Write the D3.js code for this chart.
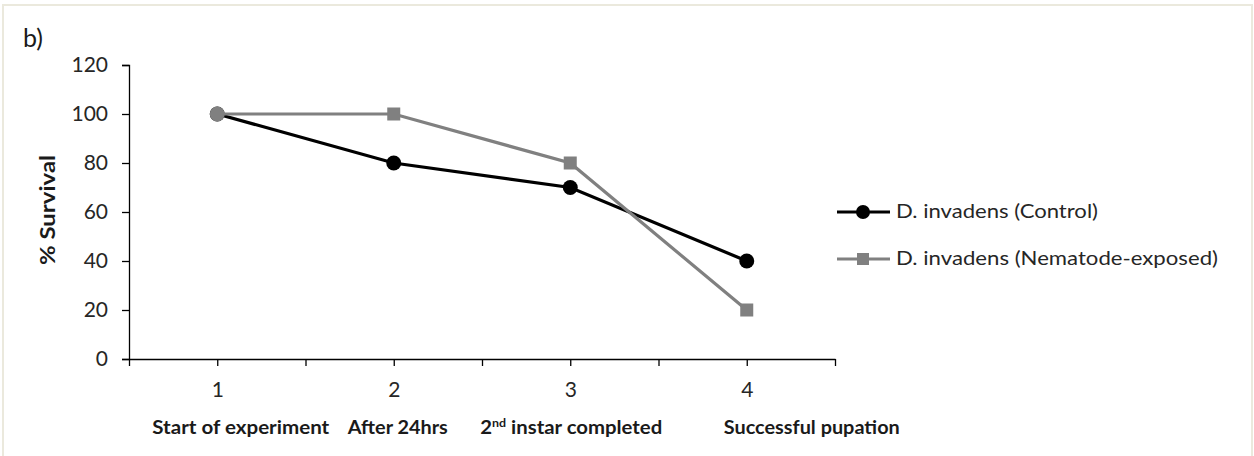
<!DOCTYPE html>
<html>
<head>
<meta charset="utf-8">
<script src="https://cdn.jsdelivr.net/npm/d3@7/dist/d3.min.js"></script>
<style>
  html, body { margin: 0; padding: 0; background: #fff; }
  svg { display: block; }
  text { font-family: Lato, "Open Sans", sans-serif; }
</style>
</head>
<body>
<svg id="chart" width="1254" height="456"></svg>
<script>
// Survival over the developmental stages
const stages = [1, 2, 3, 4];
const stageNames = ["Start of experiment", "After 24hrs", "2nd instar completed", "Successful pupation"];
const controlValues = [100, 80, 70, 40];
const nematodeValues = [100, 100, 80, 20];
const yTicks = [0, 20, 40, 60, 80, 100, 120];
const seriesNames = ["D. invadens (Control)", "D. invadens (Nematode-exposed)"];

const svg = d3.select("#chart");
const W = 1254, H = 456;

// pale frame around the figure
svg.append("rect")
  .attr("x", 3).attr("y", 5).attr("width", W - 5).attr("height", H + 10)
  .attr("fill", "#fff").attr("stroke", "#ebe9dd").attr("stroke-width", 2);

const plot = { left: 129, right: 835, top: 65, bottom: 359 };

const x = d3.scaleLinear().domain([0.5, 4.5]).range([plot.left, plot.right]);
const y = d3.scaleLinear().domain([0, 120]).range([plot.bottom, plot.top]);

const tickColor = "#262626";

// y axis
const yAxis = svg.append("g")
  .attr("transform", `translate(${plot.left},0)`)
  .call(d3.axisLeft(y).tickValues(yTicks).tickSize(7).tickPadding(14));
yAxis.select(".domain").attr("stroke", "#000").attr("stroke-width", 1.3);
yAxis.selectAll(".tick line").attr("stroke", "#000").attr("stroke-width", 1.3);
yAxis.selectAll(".tick text").attr("font-size", 21).attr("fill", tickColor)
  .attr("font-family", "Lato, sans-serif");

// x axis: ticks every half step, labels only at whole stages
const xAxis = svg.append("g")
  .attr("transform", `translate(0,${plot.bottom})`)
  .call(d3.axisBottom(x).tickValues(d3.range(0.5, 4.51, 0.5)).tickSize(7).tickSizeOuter(0)
    .tickFormat(d => Number.isInteger(d) ? d : ""));
xAxis.select(".domain").attr("stroke", "#000").attr("stroke-width", 1.3);
xAxis.selectAll(".tick text").attr("font-size", 21).attr("fill", tickColor)
  .attr("y", 38).attr("dy", 0).attr("font-family", "Lato, sans-serif");
xAxis.selectAll(".tick line").attr("stroke", "#000").attr("stroke-width", 1.3);

// stage names under the numeric labels
const nameStart = [-65, -46, -90, -23];
const nameWidth = [177, 100, 182, 176];
const names = svg.append("g").attr("font-weight", "bold").attr("font-size", 18).attr("fill", "#1a1a1a");
stages.forEach((s, i) => {
  const t = names.append("text")
    .attr("x", x(s) + nameStart[i]).attr("y", 434)
    .attr("textLength", nameWidth[i]).attr("lengthAdjust", "spacingAndGlyphs");
  const label = stageNames[i];
  if (label.startsWith("2nd")) {
    t.append("tspan").text("2");
    t.append("tspan").text("nd").attr("font-size", 11).attr("dy", -7);
    t.append("tspan").text(label.slice(3)).attr("dy", 7);
  } else {
    t.text(label);
  }
});

// y axis title
svg.append("text")
  .attr("transform", `translate(55,210) rotate(-90)`)
  .attr("text-anchor", "middle").attr("font-weight", "bold").attr("font-size", 20)
  .attr("textLength", 110).attr("lengthAdjust", "spacingAndGlyphs")
  .attr("fill", "#1a1a1a").text("% Survival");

// panel tag
svg.append("text").attr("x", 23).attr("y", 47).attr("font-size", 25)
  .attr("fill", "#1a1a1a").text("b)");

const line = d3.line().x((d, i) => x(stages[i])).y(d => y(d));

// control series
svg.append("path").datum(controlValues).attr("d", line)
  .attr("fill", "none").attr("stroke", "#000").attr("stroke-width", 3.2);
svg.selectAll(".ctrl").data(controlValues).join("circle")
  .attr("cx", (d, i) => x(stages[i])).attr("cy", d => y(d)).attr("r", 7.5)
  .attr("fill", "#000");

// nematode-exposed series
const grey = "#808080";
svg.append("path").datum(nematodeValues).attr("d", line)
  .attr("fill", "none").attr("stroke", grey).attr("stroke-width", 3.2);
const sq = 13;
nematodeValues.forEach((d, i) => {
  if (i === 0) {
    svg.append("circle").attr("cx", x(stages[i])).attr("cy", y(d)).attr("r", 7.5).attr("fill", grey);
  } else {
    svg.append("rect").attr("x", x(stages[i]) - sq / 2).attr("y", y(d) - sq / 2)
      .attr("width", sq).attr("height", sq).attr("fill", grey);
  }
});

// legend
const legend = svg.append("g").attr("transform", "translate(837,212)");
const rowGap = 47;
const legendTextWidth = [202, 322];
seriesNames.forEach((name, i) => {
  const g = legend.append("g").attr("transform", `translate(0,${i * rowGap})`);
  const col = i === 0 ? "#000" : grey;
  g.append("line").attr("x1", 0).attr("x2", 53).attr("y1", 0).attr("y2", 0)
    .attr("stroke", col).attr("stroke-width", 3.2);
  if (i === 0) g.append("circle").attr("cx", 26).attr("cy", 0).attr("r", 7).attr("fill", col);
  else g.append("rect").attr("x", 20).attr("y", -6).attr("width", 12).attr("height", 12).attr("fill", col);
  g.append("text").attr("x", 59).attr("y", 6)
    .attr("font-size", 19).attr("fill", tickColor)
    .attr("textLength", legendTextWidth[i]).attr("lengthAdjust", "spacingAndGlyphs")
    .text(name);
});
</script>
</body>
</html>
